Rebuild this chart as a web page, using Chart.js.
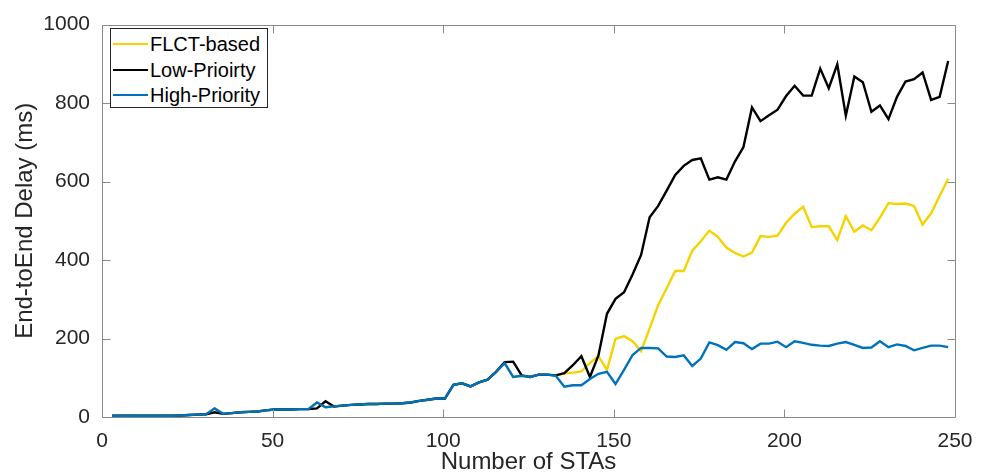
<!DOCTYPE html>
<html>
<head>
<meta charset="utf-8">
<script src="https://cdn.jsdelivr.net/npm/chart.js@4.4.1/dist/chart.umd.min.js"></script>
<style>
	html, body { margin: 0; padding: 0; background: #fff; overflow: hidden; }
	#wrap { position: relative; width: 988px; height: 473px; overflow: hidden; }
	#grafico { display: block; }
	#leyenda {
		position: absolute; left: 110px; top: 28px; width: 156px; height: 78px;
		border: 1px solid #262626; background: #fff;
		font-family: 'Liberation Sans', Arial, sans-serif; font-size: 20px; color: #000;
	}
	.fila { position: absolute; left: 0; height: 24px; line-height: 24px; white-space: nowrap; }
	.muestra { position: absolute; left: 2px; top: 11px; width: 35px; height: 2px; }
	.texto { position: absolute; left: 39px; top: 0; }
</style>
</head>
<body>
<div id="wrap">
	<canvas id="grafico" width="988" height="490"></canvas>
	<div id="leyenda"></div>
</div>
<script>
var numSTAs = [
	3, 5.5, 8, 10.5, 13, 15.5, 18, 20.5, 23, 25.5,
	28, 30.5, 33, 35.5, 38, 40.5, 43, 45.5, 48, 50.5,
	53, 55.5, 58, 60.5, 63, 65.5, 68, 70.5, 73, 75.5,
	78, 80.5, 83, 85.5, 88, 90.5, 93, 95.5, 98, 100.5,
	103, 105.5, 108, 110.5, 113, 115.5, 118, 120.5, 123, 125.5,
	128, 130.5, 133, 135.5, 138, 140.5, 143, 145.5, 148, 150.5,
	153, 155.5, 158, 160.5, 163, 165.5, 168, 170.5, 173, 175.5,
	178, 180.5, 183, 185.5, 188, 190.5, 193, 195.5, 198, 200.5,
	203, 205.5, 208, 210.5, 213, 215.5, 218, 220.5, 223, 225.5,
	228, 230.5, 233, 235.5, 238, 240.5, 243, 245.5, 248
];

var flctBased = [
	3, 3, 3, 3, 3, 3, 3, 3, 4, 5,
	6, 7, 22, 8, 10, 12, 13, 14, 17, 19,
	19, 19, 20, 20, 37, 25, 27, 29, 31, 32,
	33, 33, 34, 34, 35, 37, 41, 44, 47, 47,
	82, 86, 78, 88, 95, 115, 137, 102, 105, 102,
	108, 108, 105, 111, 113, 116, 138, 155, 120, 199,
	206, 193, 168, 226, 285, 328, 372, 372, 424, 448,
	475, 459, 432, 418, 409, 419, 461, 459, 462, 495,
	518, 536, 484, 486, 486, 451, 512, 472, 488, 476,
	508, 545, 543, 544, 538, 490, 519, 563, 607
];

var lowPriority = [
	3, 3, 3, 3, 3, 3, 3, 3, 4, 5,
	6, 7, 12, 8, 10, 12, 13, 14, 17, 19,
	19, 19, 20, 20, 22, 40, 27, 29, 31, 32,
	33, 33, 34, 34, 35, 37, 41, 44, 47, 47,
	82, 86, 78, 88, 95, 115, 140, 141, 106, 102,
	108, 108, 106, 112, 132, 155, 102, 157, 263, 301,
	318, 363, 413, 509, 538, 577, 617, 640, 655, 659,
	605, 611, 605, 651, 688, 789, 754, 769, 783, 818,
	844, 819, 819, 888, 838, 899, 768, 868, 853, 778,
	794, 759, 816, 855, 861, 878, 808, 816, 907
];

var highPriority = [
	3, 3, 3, 3, 3, 3, 3, 3, 4, 5,
	6, 7, 22, 8, 10, 12, 13, 14, 17, 19,
	19, 19, 20, 20, 37, 25, 27, 29, 31, 32,
	33, 33, 34, 34, 35, 37, 41, 44, 47, 47,
	82, 86, 78, 88, 95, 115, 137, 102, 105, 102,
	108, 108, 105, 77, 81, 81, 97, 110, 115, 84,
	120, 158, 176, 176, 175, 154, 153, 157, 130, 149,
	190, 183, 171, 191, 188, 173, 187, 187, 192, 178,
	193, 189, 184, 182, 181, 187, 191, 184, 176, 177,
	193, 178, 185, 181, 170, 176, 182, 182, 178
];

var seriesNombres = ['FLCT-based', 'Low-Prioirty', 'High-Priority'];
var seriesColores = ['#F5D300', '#000000', '#0072BD'];
var xTicks = [0, 50, 100, 150, 200, 250];
var yTicks = [0, 200, 400, 600, 800, 1000];

var fuente = "'Liberation Sans', Arial, sans-serif";

function aPuntos(valores) {
	return valores.map(function (v, i) { return { x: numSTAs[i], y: v }; });
}

// caja de ejes estilo MATLAB: borde completo y marcas hacia adentro
var marcoEjes = {
	id: 'marcoEjes',
	afterDatasetsDraw: function (chart) {
		var ctx = chart.ctx;
		var area = chart.chartArea;
		var sx = chart.scales.x;
		var sy = chart.scales.y;
		var l = Math.round(area.left) + 0.5;
		var r = Math.round(area.right) + 0.5;
		var t = Math.round(area.top) + 0.5;
		var b = Math.round(area.bottom) + 0.5;
		ctx.save();
		ctx.strokeStyle = '#8a8a8a';
		ctx.lineWidth = 1;
		ctx.beginPath();
		ctx.rect(l, t, r - l, b - t);
		sx.ticks.forEach(function (tk) {
			var px = Math.round(sx.getPixelForValue(tk.value)) + 0.5;
			ctx.moveTo(px, b); ctx.lineTo(px, b - 8);
			ctx.moveTo(px, t); ctx.lineTo(px, t + 8);
		});
		sy.ticks.forEach(function (tk) {
			var py = Math.round(sy.getPixelForValue(tk.value)) + 0.5;
			ctx.moveTo(l, py); ctx.lineTo(l + 8, py);
			ctx.moveTo(r, py); ctx.lineTo(r - 8, py);
		});
		ctx.stroke();
		ctx.restore();
	}
};

function etiquetaSimple(valor) {
	return String(valor);
}

var datos = [flctBased, lowPriority, highPriority];

var grafico = new Chart(document.getElementById('grafico'), {
	type: 'line',
	data: {
		datasets: datos.map(function (serie, i) {
			return {
				label: seriesNombres[i],
				data: aPuntos(serie),
				borderColor: seriesColores[i],
				backgroundColor: seriesColores[i],
				borderWidth: 2.4,
				pointRadius: 0,
				tension: 0,
				fill: false,
				order: 3 - i
			};
		})
	},
	options: {
		responsive: false,
		animation: false,
		layout: { padding: { left: 0, top: 18, right: 33, bottom: 0 } },
		plugins: {
			legend: { display: false },
			tooltip: { enabled: false }
		},
		scales: {
			x: {
				type: 'linear',
				min: 0,
				max: 250,
				afterFit: function (scale) { scale.height = 73; },
				afterBuildTicks: function (scale) {
					scale.ticks = xTicks.map(function (v) { return { value: v }; });
				},
				grid: { display: false, drawTicks: false },
				border: { display: false },
				ticks: {
					color: '#262626',
					font: { family: fuente, size: 21 },
					padding: 12,
					maxRotation: 0,
					autoSkip: false,
					callback: etiquetaSimple
				},
				title: {
					display: true,
					text: 'Number of STAs',
					color: '#262626',
					font: { family: fuente, size: 24 },
					padding: { top: 0, bottom: 13 }
				}
			},
			y: {
				min: 0,
				max: 1000,
				afterFit: function (scale) { scale.width = 102; },
				afterBuildTicks: function (scale) {
					scale.ticks = yTicks.map(function (v) { return { value: v }; });
				},
				grid: { display: false, drawTicks: false },
				border: { display: false },
				ticks: {
					color: '#262626',
					font: { family: fuente, size: 21 },
					padding: 12,
					autoSkip: false,
					callback: etiquetaSimple
				},
				title: {
					display: true,
					text: 'End-toEnd Delay (ms)',
					color: '#262626',
					font: { family: fuente, size: 24 },
					padding: { top: 11, bottom: 0 }
				}
			}
		}
	},
	plugins: [marcoEjes]
});

// leyenda HTML dentro del área del gráfico
var leyenda = document.getElementById('leyenda');
var filasTop = [3, 29, 54];
grafico.data.datasets.forEach(function (ds, i) {
	var fila = document.createElement('div');
	fila.className = 'fila';
	fila.style.top = filasTop[i] + 'px';
	var muestra = document.createElement('span');
	muestra.className = 'muestra';
	muestra.style.background = ds.borderColor;
	var texto = document.createElement('span');
	texto.className = 'texto';
	texto.textContent = ds.label;
	fila.appendChild(muestra);
	fila.appendChild(texto);
	leyenda.appendChild(fila);
});
</script>
</body>
</html>
